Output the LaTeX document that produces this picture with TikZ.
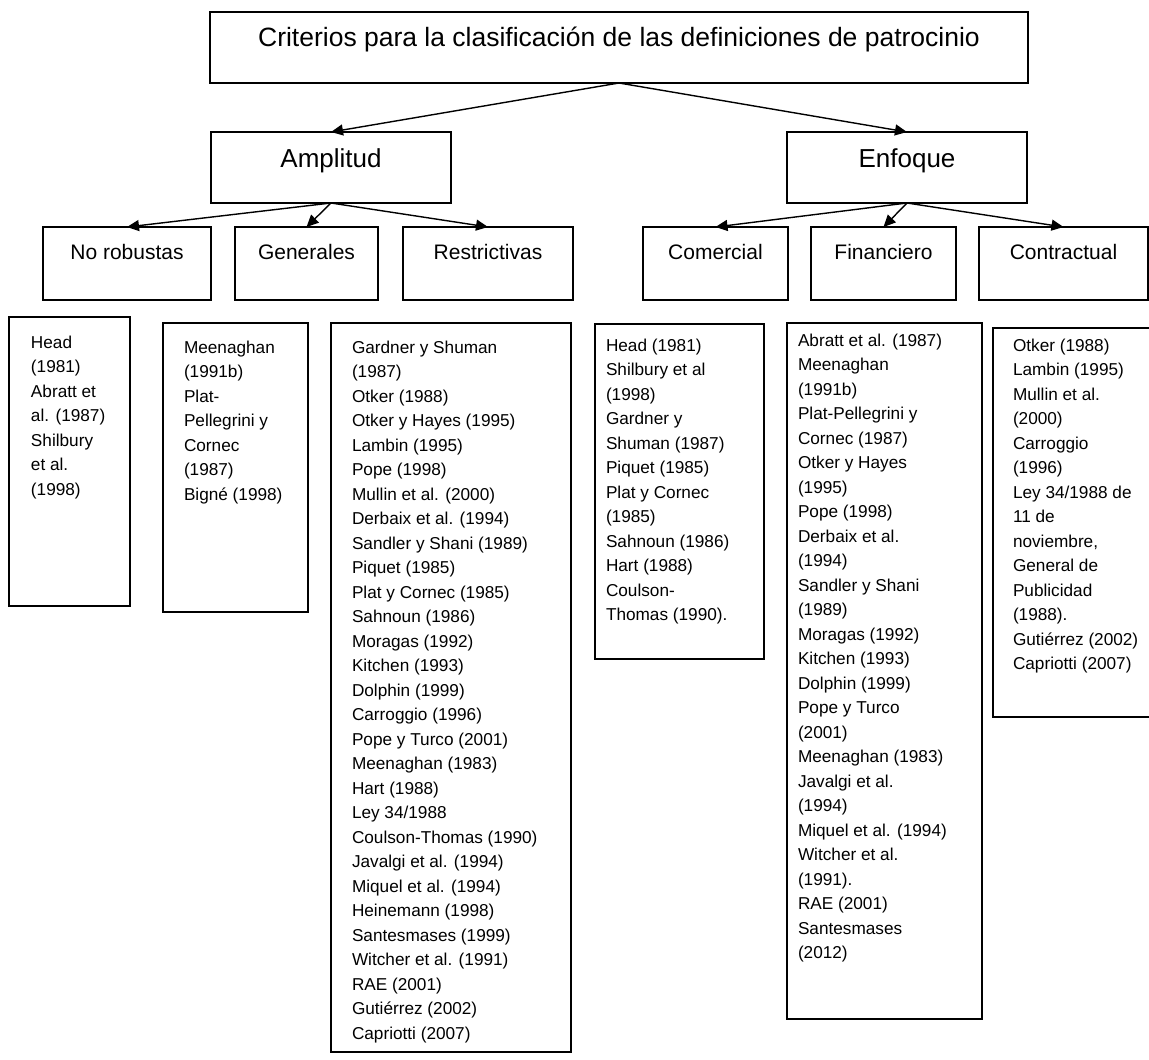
\documentclass[tikz,border=0pt]{standalone}
\usepackage{fontspec}
\setmainfont{Liberation Sans}
\usetikzlibrary{arrows.meta}

% reference list: width, height, left indent, first baseline, entries
\newcommand\reflist[5]{%
  \parbox[t][#2][t]{#1}{\fontsize{17.2pt}{24.5pt}\selectfont
    \raggedright\leftskip=#3\rule{0pt}{#4}\ignorespaces#5}}

\begin{document}
\begin{tikzpicture}[x=1pt,y=-1pt,
  frame/.style={draw=black, line width=1.4pt, inner sep=0pt, outer sep=0pt},
  titlebox/.style={frame, font=\fontsize{26.5pt}{30pt}\selectfont,
    text height=34.5pt, text depth=36.5pt, minimum width=818pt, anchor=north},
  mainbox/.style={frame, font=\fontsize{26pt}{30pt}\selectfont,
    text height=35pt, text depth=36pt, minimum width=240pt, anchor=north},
  subbox/.style={frame, font=\fontsize{21pt}{25pt}\selectfont,
    text height=32.5pt, text depth=40.5pt, anchor=north},
  listbox/.style={frame, anchor=north west},
  arr/.style={line width=1.4pt, -{Triangle[length=12pt,width=11pt]}}
]
\useasboundingbox (0,0) rectangle (1149,1060);

% top level
\node[titlebox] (crit) at (619,12)
  {Criterios para la clasificación de las definiciones de patrocinio};

% criteria
\node[mainbox] (ampl) at (331,132) {Amplitud};
\node[mainbox] (enf)  at (907,132) {Enfoque};

% categories
\node[subbox, minimum width=168pt] (norob) at (127,227)    {No robustas};
\node[subbox, minimum width=143pt] (gen)   at (306.5,227)  {Generales};
\node[subbox, minimum width=170pt] (restr) at (488,227)    {Restrictivas};
\node[subbox, minimum width=145pt] (com)   at (715.5,227)  {Comercial};
\node[subbox, minimum width=145pt] (fin)   at (883.5,227)  {Financiero};
\node[subbox, minimum width=169pt] (contr) at (1063.5,227) {Contractual};

% connectors
\draw[arr] (crit.south) -- (ampl.north);
\draw[arr] (crit.south) -- (enf.north);
\draw[arr] (ampl.south) -- (norob.north);
\draw[arr] (ampl.south) -- (gen.north);
\draw[arr] (ampl.south) -- (restr.north);
\draw[arr] (enf.south) -- (com.north);
\draw[arr] (enf.south) -- (fin.north);
\draw[arr] (enf.south) -- (contr.north);

% author lists
\node[listbox] (l1) at (9,317) {\reflist{121pt}{289pt}{22pt}{31pt}{%
Head\\(1981)\\Abratt et\\al. (1987)\\Shilbury\\et al.\\(1998)}};

\node[listbox] (l2) at (163,323) {\reflist{145pt}{289pt}{21pt}{30pt}{%
Meenaghan\\(1991b)\\Plat-\\Pellegrini y\\Cornec\\(1987)\\Bigné (1998)}};

\node[listbox] (l3) at (331,323) {\reflist{240pt}{729pt}{21pt}{30pt}{%
Gardner y Shuman\\(1987)\\Otker (1988)\\Otker y Hayes (1995)\\Lambin (1995)\\%
Pope (1998)\\Mullin et al. (2000)\\Derbaix et al. (1994)\\Sandler y Shani (1989)\\%
Piquet (1985)\\Plat y Cornec (1985)\\Sahnoun (1986)\\Moragas (1992)\\Kitchen (1993)\\%
Dolphin (1999)\\Carroggio (1996)\\Pope y Turco (2001)\\Meenaghan (1983)\\Hart (1988)\\%
Ley 34/1988\\Coulson-Thomas (1990)\\Javalgi et al. (1994)\\Miquel et al. (1994)\\%
Heinemann (1998)\\Santesmases (1999)\\Witcher et al. (1991)\\RAE (2001)\\%
Gutiérrez (2002)\\Capriotti (2007)}};

\node[listbox] (l4) at (595,324) {\reflist{169pt}{335pt}{11pt}{27pt}{%
Head (1981)\\Shilbury et al\\(1998)\\Gardner y\\Shuman (1987)\\Piquet (1985)\\%
Plat y Cornec\\(1985)\\Sahnoun (1986)\\Hart (1988)\\Coulson-\\Thomas (1990).}};

\node[listbox] (l5) at (787,323) {\reflist{195pt}{696pt}{11pt}{23pt}{%
Abratt et al. (1987)\\Meenaghan\\(1991b)\\Plat-Pellegrini y\\Cornec (1987)\\%
Otker y Hayes\\(1995)\\Pope (1998)\\Derbaix et al.\\(1994)\\Sandler y Shani\\(1989)\\%
Moragas (1992)\\Kitchen (1993)\\Dolphin (1999)\\Pope y Turco\\(2001)\\%
Meenaghan (1983)\\Javalgi et al.\\(1994)\\Miquel et al. (1994)\\Witcher et al.\\%
(1991).\\RAE (2001)\\Santesmases\\(2012)}};

\node[listbox] (l6) at (993,328) {\reflist{177pt}{389pt}{20pt}{23pt}{%
Otker (1988)\\Lambin (1995)\\Mullin et al.\\(2000)\\Carroggio\\(1996)\\%
Ley 34/1988 de\\11 de\\noviembre,\\General de\\Publicidad\\(1988).\\%
Gutiérrez (2002)\\Capriotti (2007)}};
\end{tikzpicture}
\end{document}
